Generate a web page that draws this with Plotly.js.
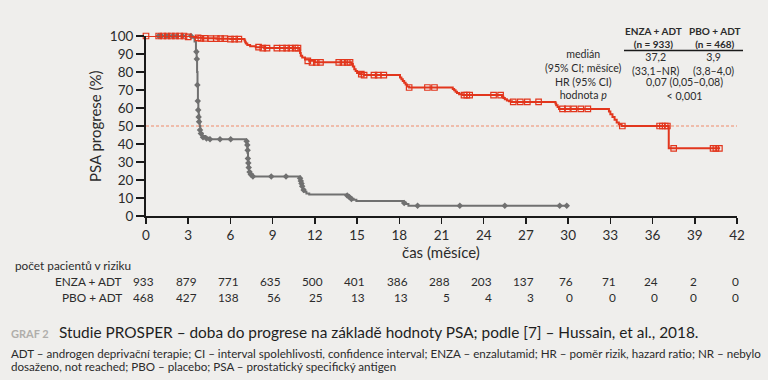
<!DOCTYPE html>
<html>
<head>
<meta charset="utf-8">
<script src="https://cdn.plot.ly/plotly-3.0.1.min.js"></script>
<style>html,body{margin:0;padding:0;background:#efeeec;}#chart{width:768px;height:380px;}</style>
</head>
<body>
<div id="chart"></div>
<script>
// ---- Data ----
// ENZA + ADT Kaplan-Meier curve (months, % without PSA progression)
var enzaTime = [0, 3.4, 3.6, 4.0, 5.0, 6.0, 7.0, 7.05, 7.1, 7.2, 7.4, 7.8, 8.4,
  10.9, 10.95, 11.0, 11.1, 11.3, 11.6, 12.0,
  14.6, 14.7, 14.8, 14.9, 15.0, 15.2, 15.5,
  18.05, 18.15, 18.25, 18.35, 18.45, 18.55, 18.7,
  21.8, 21.9, 22.0, 22.1, 22.25, 22.5,
  25.3, 25.4, 25.5, 25.65, 25.8, 26.0,
  29.1, 29.15, 29.25, 29.35, 29.5,
  32.9, 33.0, 33.15, 33.3, 33.45, 33.6, 33.8,
  37.15, 40.8];
var enzaSurv = [100, 99.5, 99.0, 98.7, 98.5, 98.3, 97.5, 96.5, 95.8, 95.0, 94.3, 93.8, 93.3,
  92.0, 90.5, 89.0, 88.0, 87.0, 86.2, 85.4,
  84.5, 83.0, 81.5, 80.5, 79.5, 78.8, 78.3,
  77.0, 76.0, 75.0, 74.0, 73.0, 72.0, 71.4,
  70.5, 69.8, 69.0, 68.3, 67.6, 67.2,
  66.3, 65.5, 64.8, 64.2, 63.7, 63.4,
  62.5, 61.5, 60.5, 59.5,
  59.5, 58.0, 56.5, 55.0, 53.5, 52.0, 51.0, 50.0,
  37.6, 37.6];
// ENZA + ADT censored observations
var enzaCensT = [0, 0.9, 1.2, 1.5, 1.8, 2.1, 2.4, 2.7, 3.0, 3.7, 3.9, 4.2, 4.6, 5.0, 5.3, 5.6, 6.0, 6.3, 6.6,
  8.0, 8.3, 8.6, 9.3, 9.7, 10.0, 10.3, 10.6, 10.8,
  11.5, 11.8, 12.1, 12.4, 13.7, 14.0, 14.3, 14.5,
  15.3, 15.5, 16.2, 16.5, 16.9,
  18.7, 20.0, 20.5,
  22.6, 22.8, 23.0, 24.7, 25.2,
  26.1, 26.6, 27.1, 27.9,
  29.6, 29.95, 30.4, 30.9, 31.4,
  33.85, 36.5, 36.7, 36.9, 37.05,
  37.5, 40.3, 40.5, 40.75];
var enzaCensS = [100, 100, 100, 100, 100, 100, 100, 100, 99.5, 99.0, 98.7, 98.7, 98.5, 98.5, 98.5, 98.5, 98.3, 98.3, 98.3,
  93.8, 93.3, 93.3, 93.3, 93.3, 93.3, 93.3, 93.3, 93.3,
  86.2, 85.4, 85.4, 85.4, 85.4, 85.4, 85.4, 85.4,
  78.8, 78.3, 78.3, 78.3, 78.3,
  71.4, 71.4, 71.4,
  67.2, 67.2, 67.2, 67.2, 67.2,
  63.4, 63.4, 63.4, 63.4,
  59.5, 59.5, 59.5, 59.5, 59.5,
  50.0, 50.0, 50.0, 50.0, 50.0,
  37.6, 37.6, 37.6, 37.6];

// PBO + ADT Kaplan-Meier curve
var pboTime = [0, 3.3, 3.45, 3.55, 3.6, 3.63, 3.66, 3.69, 3.72, 3.75, 3.78, 3.82, 3.86, 3.9, 4.0, 4.2, 4.5,
  7.1, 7.15, 7.2, 7.22, 7.25, 7.28, 7.32, 7.4, 7.6,
  10.95, 11.0, 11.05, 11.1, 11.15, 11.25, 11.4, 11.6,
  14.3, 14.45, 14.6, 14.75, 14.95,
  18.3, 18.45, 18.65, 30.0];
var pboSurv = [100, 99, 97, 92, 87, 80, 73, 64, 59, 56, 53, 50, 48, 46, 44.5, 43.5, 42.6,
  41.5, 40, 38, 35, 31, 28, 25, 23, 22,
  21, 19.5, 18, 16.5, 15, 13.5, 12.5, 12,
  11, 10.3, 9.6, 9, 8.3,
  7.5, 6.7, 5.7, 5.7];
// PBO + ADT censored observations
var pboCensT = [0.9, 1.1, 1.4, 1.6, 1.9, 2.2, 2.6, 3.2,
  3.58, 3.61, 3.65, 3.68, 3.71, 3.74, 3.77, 3.84, 3.9, 4.05, 4.3, 4.55, 5.26, 6.02,
  7.15, 7.2, 7.22, 7.24, 7.27, 7.3, 7.36, 7.45, 7.6, 8.9, 9.95,
  10.95, 11.0, 11.05, 11.1, 11.2,
  14.3, 14.45, 14.6, 18.35,
  19.3, 22.3, 25.5, 29.4, 29.9];
var pboCensS = [100, 100, 100, 100, 100, 100, 100, 100,
  91.3, 87.2, 72.8, 63.9, 58.9, 55, 52.4, 47.8, 45.9, 43.7, 43, 42.6, 42.6, 42.6,
  41.5, 39.4, 36.5, 32, 29.5, 27, 24.5, 23, 22, 22, 22,
  21, 19.5, 18, 16.5, 14.5,
  11.4, 10.5, 9.5, 7.2,
  5.7, 5.7, 5.7, 5.7, 5.7];

// Number at risk table
var riskTimes = [0, 3, 6, 9, 12, 15, 18, 21, 24, 27, 30, 33, 36, 39, 42];
var riskEnza = [933, 879, 771, 635, 500, 401, 386, 288, 203, 137, 76, 71, 24, 2, 0];
var riskPbo = [468, 427, 138, 56, 25, 13, 13, 5, 4, 3, 0, 0, 0, 0, 0];
var groupNames = ['ENZA + ADT', 'PBO + ADT'];

var xTicks = [0, 3, 6, 9, 12, 15, 18, 21, 24, 27, 30, 33, 36, 39, 42];
var yTicks = [0, 10, 20, 30, 40, 50, 60, 70, 80, 90, 100];

// ---- Styling ----
var RED = '#e2361d', GRAY = '#707070', TXT = '#2b2b2b', BG = '#efeeec';
var FONT = 'Lato, "Noto Sans", sans-serif';
var L = 146, R = 737, T = 36, B = 216;
function px(x) { return (x - L) / (R - L); }
function py(y) { return (B - y) / (B - T); }

var traces = [
  {x: pboTime, y: pboSurv, mode: 'lines', line: {shape: 'hv', color: GRAY, width: 2}, cliponaxis: false, hoverinfo: 'skip'},
  {x: pboCensT, y: pboCensS, mode: 'markers', marker: {symbol: 'diamond', size: 5, color: GRAY}, cliponaxis: false, hoverinfo: 'skip'},
  {x: enzaTime, y: enzaSurv, mode: 'lines', line: {shape: 'hv', color: RED, width: 2}, cliponaxis: false, hoverinfo: 'skip'},
  {x: enzaCensT, y: enzaCensS, mode: 'markers', marker: {symbol: 'square-open', size: 5.5, color: RED, line: {width: 1.2}}, cliponaxis: false, hoverinfo: 'skip'}
];

var ann = [];
function addText(text, x, y, size, opts) {
  var a = {text: text, x: px(x), y: py(y), xref: 'paper', yref: 'paper', showarrow: false,
    font: {family: FONT, size: size, color: TXT}, xanchor: 'center', yanchor: 'middle', borderpad: 0};
  for (var k in (opts || {})) a[k] = opts[k];
  ann.push(a);
}
// axis titles
addText('čas (měsíce)', 441, 252, 15);
addText('PSA progrese (%)', 95, 126, 15, {textangle: -90});
// risk table
addText('počet pacientů v riziku', 14, 265, 11.8, {xanchor: 'left'});
addText(groupNames[0], 123, 281, 11.8, {xanchor: 'right'});
addText(groupNames[1], 123, 297, 11.8, {xanchor: 'right'});
for (var i = 0; i < riskTimes.length; i++) {
  var half = String(riskEnza[i]).length * 3.1;
  ann.push({text: String(riskEnza[i]), x: riskTimes[i], xref: 'x', y: py(281), yref: 'paper', showarrow: false,
    xanchor: 'right', xshift: half + 1, yanchor: 'middle', font: {family: FONT, size: 11.8, color: TXT}});
  ann.push({text: String(riskPbo[i]), x: riskTimes[i], xref: 'x', y: py(297), yref: 'paper', showarrow: false,
    xanchor: 'right', xshift: half + 1, yanchor: 'middle', font: {family: FONT, size: 11.8, color: TXT}});
}
// caption
addText('<b>GRAF 2</b>', 10, 333, 11, {xanchor: 'left', font: {family: FONT, size: 11, color: '#b0aeab'}});
addText('Studie PROSPER – doba do progrese na základě hodnoty PSA; podle [7] – Hussain, et al., 2018.', 58, 332, 15.4, {xanchor: 'left', font: {family: FONT, size: 15.4, color: '#1e1e1e'}});
addText('ADT – androgen deprivační terapie; CI – interval spolehlivosti, confidence interval; ENZA – enzalutamid; HR – poměr rizik, hazard ratio; NR – nebylo', 10, 353, 11.6, {xanchor: 'left'});
addText('dosaženo, not reached; PBO – placebo; PSA – prostatický specifický antigen', 10, 366, 11.6, {xanchor: 'left'});
// stats table (multi-line blocks)
addText('<b>ENZA + ADT</b><br><b>(n = 933)</b>', 653, 37, 10);
addText('<b>PBO + ADT</b><br><b>(n = 468)</b>', 714, 37, 10);
addText('medián<br>(95% CI; měsíce)<br>HR (95% CI)<br>hodnota <i>p</i>', 583, 74, 10.6);
addText('37,2<br>(33,1–NR)', 656, 63.5, 10.6);
addText('3,9<br>(3,8–4,0)', 713, 63.5, 10.6);
addText('0,07 (0,05–0,08)<br>< 0,001', 684, 89, 10.6);

var layout = {
  width: 768, height: 380,
  margin: {l: L, r: 768 - R, t: T, b: 380 - B},
  paper_bgcolor: BG, plot_bgcolor: BG,
  showlegend: false,
  font: {family: FONT, size: 13, color: TXT},
  xaxis: {range: [0, 42], tickvals: xTicks, ticktext: xTicks.map(String), ticks: 'outside', ticklen: 6, tickwidth: 1.5, tickcolor: '#1a1a1a',
    showline: true, linewidth: 2, linecolor: '#1a1a1a', showgrid: false, zeroline: false, tickfont: {size: 13.5}, fixedrange: true},
  yaxis: {range: [0, 100], tickvals: yTicks, ticktext: yTicks.map(String), ticks: 'outside', ticklen: 8, tickwidth: 2, tickcolor: '#1a1a1a',
    showline: true, linewidth: 2, linecolor: '#1a1a1a', showgrid: false, zeroline: false, tickfont: {size: 13.5}, fixedrange: true},
  shapes: [
    {type: 'line', xref: 'x', yref: 'y', x0: 0, x1: 42, y0: 50, y1: 50, line: {color: '#ef8a6a', width: 1, dash: '3px,2px'}, layer: 'below'},
    {type: 'line', xref: 'paper', yref: 'paper', x0: px(624), x1: px(743), y0: py(50.5), y1: py(50.5), line: {color: '#1a1a1a', width: 1.5}}
  ],
  annotations: ann
};
Plotly.newPlot('chart', traces, layout, {displayModeBar: false, staticPlot: true});
</script>
</body>
</html>
